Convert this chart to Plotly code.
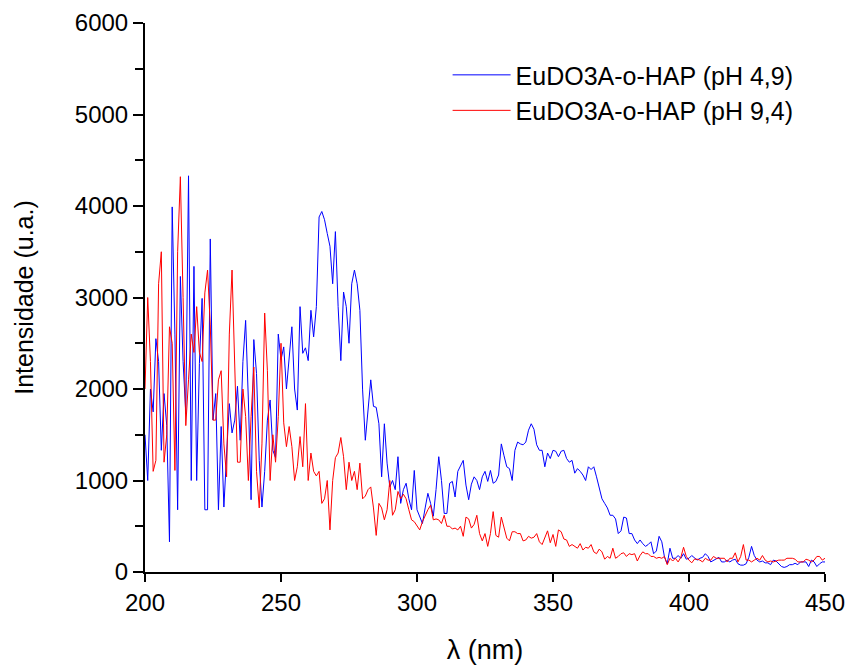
import plotly.graph_objects as go

wavelength = list(range(200, 451))

intensity_ph49 = [
    1500, 1000, 2000, 1750, 2550, 2300, 1330, 1950, 1600, 330,
    3990, 2600, 680, 3230, 2300, 1730, 4330, 1000, 3340, 1000,
    2280, 2990, 680, 680, 3640, 1660, 1950, 680, 1590, 710,
    1290, 1840, 1520, 1660, 2030, 1440, 2300, 2750, 1880, 790,
    2540, 2170, 1220, 710, 1100, 1660, 1880, 1330, 1250, 2600,
    2320, 2460, 2000, 2300, 2680, 2000, 1770, 2900, 2390, 2450,
    2310, 2860, 2570, 2900, 3880, 3940, 3850, 3700, 3560, 3150,
    3720, 2900, 2310, 3060, 2900, 2500, 3150, 3300, 3150, 2860,
    1990, 1440, 1800, 2100, 1810, 1800, 1620, 1040, 1620, 1190,
    930, 1000, 900, 1260, 750, 900, 970, 800, 680, 1110,
    680, 600, 530, 700, 860, 750, 610, 900, 1260, 1000,
    640, 640, 970, 990, 820, 1100, 1160, 1220, 950, 790,
    960, 1040, 1000, 900, 1040, 1100, 990, 1110, 970, 990,
    1060, 1400, 1270, 1150, 1130, 1000, 1330, 1420, 1400, 1390,
    1420, 1550, 1620, 1560, 1390, 1330, 1330, 1150, 1300, 1240,
    1330, 1320, 1260, 1320, 1330, 1240, 1200, 1220, 1080, 1130,
    1100, 1060, 1000, 1150, 1120, 1150, 1040, 920, 800, 750,
    700, 620, 620, 580, 420, 450, 600, 590, 420, 420,
    350, 310, 350, 310, 280, 300, 330, 200, 230, 390,
    330, 160, 90, 260, 150, 150, 180, 150, 200, 140,
    150, 180, 150, 130, 150, 160, 200, 170, 110, 130,
    140, 160, 110, 110, 130, 110, 130, 140, 90, 75,
    75, 90, 160, 280, 180, 130, 110, 120, 100, 100,
    80, 130, 120, 90, 60, 50, 60, 80, 80, 95,
    80, 110, 110, 110, 60, 130, 110, 60, 90, 110,
    110,
]

intensity_ph94 = [
    2000, 3000, 2300, 1100, 1220, 3150, 3500, 1200, 1500, 2680,
    2500, 1110, 3500, 4320, 3000, 1600, 2100, 2600, 2400, 2900,
    2400, 2300, 3050, 3300, 2700, 1660, 1660, 2100, 2200, 1400,
    1040, 2600, 3300, 2100, 1200, 1200, 2000, 1700, 1000, 1700,
    2240, 1100, 700, 1400, 2830, 2200, 1000, 1500, 1200, 1700,
    2500, 1630, 1370, 1590, 1370, 1000, 1150, 1480, 1150, 1840,
    1000, 1300, 1100, 1050, 1100, 750, 800, 1000, 460, 1000,
    1250, 1300, 1470, 1260, 900, 1200, 1000, 1100, 900, 1190,
    800, 830, 900, 930, 700, 400, 750, 700, 570, 680,
    1000, 620, 680, 880, 800, 850, 800, 680, 570, 550,
    500, 460, 550, 620, 680, 730, 570, 580, 570, 530,
    620, 500, 500, 470, 480, 460, 500, 390, 600, 580,
    480, 520, 620, 420, 340, 420, 280, 420, 660, 400,
    380, 600, 490, 370, 340, 440, 440, 420, 420, 340,
    350, 390, 370, 380, 420, 330, 300, 380, 450, 320,
    410, 280, 460, 440, 360, 350, 280, 300, 280, 260,
    310, 240, 270, 260, 300, 220, 200, 250, 220, 140,
    170, 150, 260, 150, 170, 200, 210, 170, 200, 190,
    200, 120, 180, 220, 200, 200, 170, 170, 150, 160,
    150, 170, 80, 150, 120, 150, 110, 160, 270, 170,
    130, 100, 140, 140, 130, 110, 150, 130, 130, 170,
    150, 150, 150, 150, 110, 150, 150, 210, 110, 170,
    300, 130, 130, 110, 130, 150, 130, 180, 130, 110,
    120, 110, 120, 130, 130, 130, 150, 150, 150, 140,
    110, 110, 110, 140, 130, 110, 130, 170, 170, 130,
    150,
]

series_names = ["EuDO3A-o-HAP (pH 4,9)", "EuDO3A-o-HAP (pH 9,4)"]
x_ticks = [200, 250, 300, 350, 400, 450]
y_ticks = [0, 1000, 2000, 3000, 4000, 5000, 6000]
y_minor_ticks = [500, 1500, 2500, 3500, 4500, 5500]

fig = go.Figure()
fig.add_trace(go.Scatter(x=wavelength, y=intensity_ph49, mode="lines",
                         name=series_names[0], line=dict(color="#0000ff", width=1)))
fig.add_trace(go.Scatter(x=wavelength, y=intensity_ph94, mode="lines",
                         name=series_names[1], line=dict(color="#ff0000", width=1)))

fig.update_layout(
    width=848, height=665,
    margin=dict(l=145, r=23, t=23, b=93),
    plot_bgcolor="white", paper_bgcolor="white",
    font=dict(family="Liberation Sans, Arial, sans-serif", size=24, color="black"),
    showlegend=True,
    legend=dict(x=0.445, y=0.947, xanchor="left", yanchor="top",
                font=dict(size=25), bgcolor="rgba(0,0,0,0)",
                itemwidth=58, tracegroupgap=0),
)
fig.update_xaxes(
    range=[200, 450], tickvals=x_ticks, showline=True, linecolor="black", linewidth=2,
    ticks="outside", ticklen=8, tickwidth=2, tickcolor="black", automargin=False,
    showgrid=False, zeroline=False, tickfont=dict(size=24),
    title=dict(text="λ (nm)", font=dict(size=27), standoff=28),
)
fig.update_yaxes(
    range=[0, 6000], tickvals=y_ticks, showline=True, linecolor="black", linewidth=2,
    ticks="outside", ticklen=10, tickwidth=2, tickcolor="black", automargin=False,
    minor=dict(tickvals=y_minor_ticks, ticks="outside", ticklen=8, tickwidth=2, tickcolor="black"),
    showgrid=False, zeroline=False, tickfont=dict(size=24),
    title=dict(text="Intensidade (u.a.)", font=dict(size=25), standoff=34),
)

fig.write_html("out.html")
